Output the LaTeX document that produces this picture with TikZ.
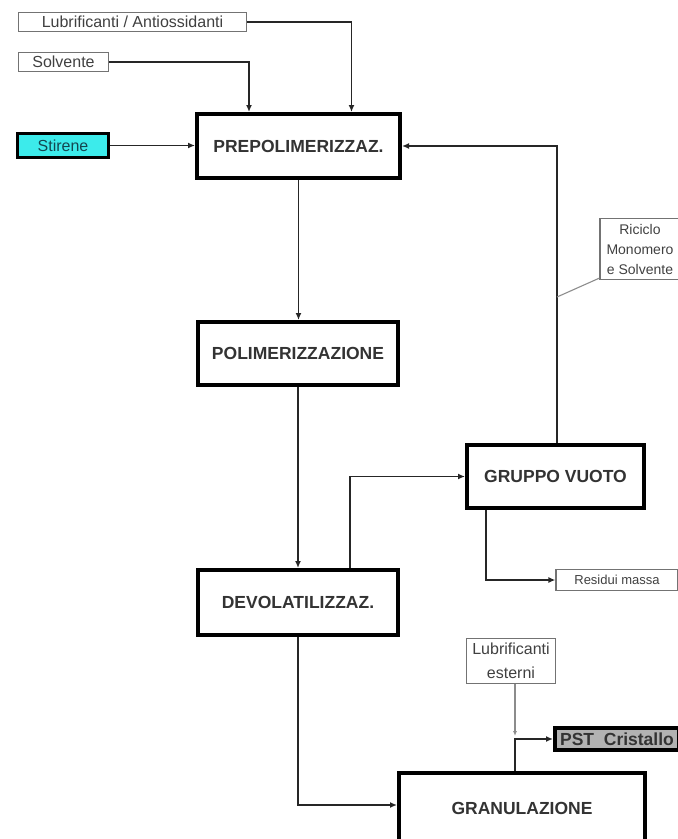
\documentclass[tikz,border=0pt]{standalone}
\usepackage{fontspec}
\setmainfont{Liberation Sans}
\usetikzlibrary{arrows.meta}
\colorlet{box edge}{black}
\colorlet{feed edge}{black!55}
\colorlet{feed text}{black!75}
\definecolor{stirene fill}{RGB}{60,235,235}
\definecolor{stirene text}{RGB}{20,70,80}
\colorlet{prodotto fill}{black!30}
\tikzset{procbox/.style={draw=box edge, line width=4pt, fill=white, inner sep=0pt,
		text=black!80, font=\fontsize{17.5}{20}\selectfont\bfseries},
	feedbox/.style={draw=feed edge, line width=1.2pt, inner sep=0pt, align=center,
		text=feed text, font=\fontsize{16}{18}\selectfont},
	stirbox/.style={draw=box edge, line width=3pt, fill=stirene fill, inner sep=0pt,
		text=stirene text, font=\fontsize{16}{18}\selectfont},
	flow/.style={-{Latex[length=7pt,width=6pt]}, line width=1.6pt, draw=black!85},
	thinline/.style={draw=black!45, line width=1.1pt}}

\begin{document}
\begin{tikzpicture}[x=1pt,y=-1pt]
		\useasboundingbox (0,0) rectangle (678,839);
		% alimentazioni
		\node[feedbox, minimum width=228pt, minimum height=19pt] (lubant) at (132.5,22) {Lubrificanti / Antiossidanti};
		\node[feedbox, minimum width=90pt, minimum height=19pt] (solv) at (63.5,62) {Solvente};
		\node[stirbox, minimum width=91pt, minimum height=24pt] (stir) at (63,145.5) {Stirene};
		
		% reparti
		\node[procbox, minimum width=203pt, minimum height=64pt] (prepol) at (298.5,146) {PREPOLIMERIZZAZ.};
		\node[procbox, minimum width=200pt, minimum height=63pt] (polim) at (298,353.5) {POLIMERIZZAZIONE};
		\node[procbox, minimum width=200pt, minimum height=65pt] (devol) at (298,602.5) {DEVOLATILIZZAZ.};
		\node[procbox, minimum width=177pt, minimum height=63pt] (vuoto) at (555.5,476.5) {GRUPPO VUOTO};
		\node[procbox, minimum width=246pt, minimum height=70pt] (granul) at (522,808) {GRANULAZIONE};
		
		\node[feedbox, minimum width=80pt, minimum height=61pt, font=\fontsize{14}{20}\selectfont] (riciclo) at (640,249) {Riciclo\\Monomero\\e Solvente};
		\node[feedbox, minimum width=122pt, minimum height=21pt, font=\fontsize{13}{15}\selectfont] (residui) at (617,580) {Residui massa};
		\node[feedbox, minimum width=89pt, minimum height=45pt, font=\fontsize{16}{24}\selectfont] (lubest) at (511,661) {Lubrificanti\\esterni};
		\node[procbox, line width=4pt, fill=prodotto fill, minimum width=124pt, minimum height=22pt] (pst) at (617,739) {PST\ \ Cristallo};
		
		\draw[flow] (lubant.east) -| ([xshift=53pt]prepol.north);
		\draw[flow] (solv.east) -| ([xshift=-49.5pt]prepol.north);
		\draw[flow] (stir.east) -- (stir.east -| prepol.west);
		\draw[flow] (prepol.south) -- (prepol.south |- polim.north);
		\draw[flow] (polim.south) -- (devol.north);
		\draw[flow] ([xshift=52pt]devol.north) |- (vuoto.west);
		\draw[flow] ([xshift=1.5pt]vuoto.north) |- (prepol.east);
		\coordinate (ricpt) at (557,297);
		\draw[thinline] ([yshift=2pt]riciclo.south west) -- (ricpt);
		\draw[flow] ([xshift=-69.5pt]vuoto.south) |- (residui.west);
		\draw[flow] (devol.south) |- ([yshift=3pt]granul.west);
		\coordinate (junc) at (515,739);
		\draw[flow, line width=2.2pt] (granul.north -| junc) -- (junc) -- (pst.west);
		\draw[thinline, -{Latex[length=5pt,width=4pt]}] (lubest.south -| junc) -- ([yshift=3pt]junc);
		\end{tikzpicture}
\end{document}
